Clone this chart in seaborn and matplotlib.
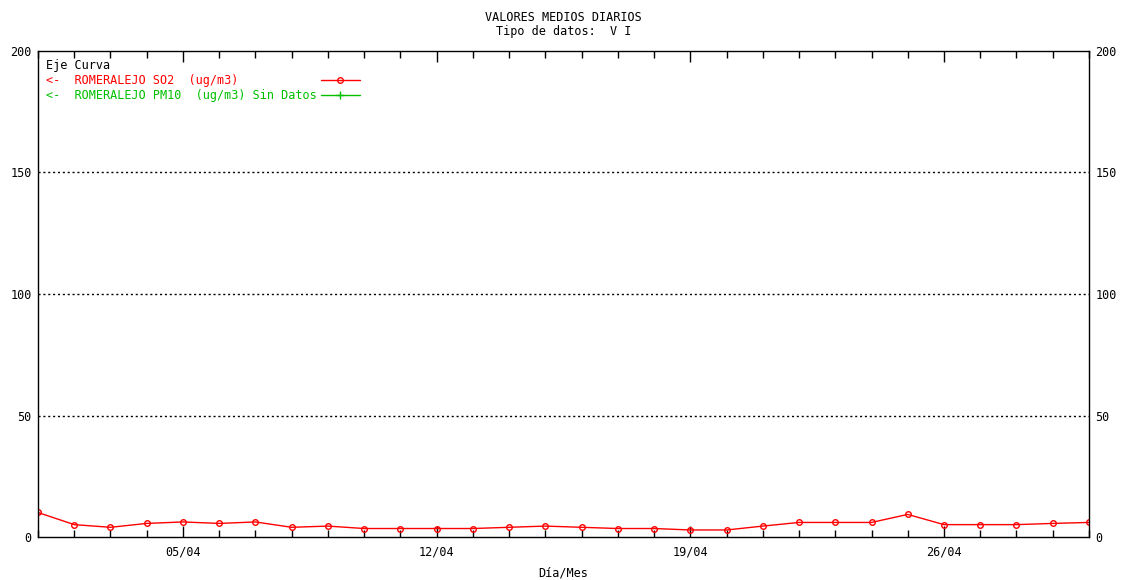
import matplotlib
matplotlib.use("Agg")
import matplotlib.pyplot as plt
import seaborn as sns
from matplotlib.ticker import MultipleLocator

# datos diarios abril, SO2 Romeralejo (ug/m3)
days = list(range(1, 31))
so2 = [10.1, 5.1, 4.0, 5.6, 6.2, 5.6, 6.2, 4.0, 4.5, 3.5,
       3.5, 3.5, 3.5, 4.0, 4.5, 4.0, 3.5, 3.5, 2.9, 2.9,
       4.5, 6.0, 6.0, 6.0, 9.3, 5.1, 5.1, 5.1, 5.6, 6.0]
tick_days = [5, 12, 19, 26]
tick_labels = ["05/04", "12/04", "19/04", "26/04"]
y_ticks = [0, 50, 100, 150, 200]

label_so2 = "<-  ROMERALEJO SO2  (ug/m3)"
label_pm10 = "<-  ROMERALEJO PM10  (ug/m3) Sin Datos"

sns.set_style("white")
plt.rcParams['font.family'] = ['DejaVu Sans Mono']
plt.rcParams['text.color'] = 'black'
plt.rcParams['xtick.color'] = 'black'
plt.rcParams['ytick.color'] = 'black'
plt.rcParams['axes.labelcolor'] = 'black'

fig = plt.figure(figsize=(11.21, 5.80), dpi=100)
ax = fig.add_axes([0.0339, 0.0741, 0.9375, 0.838])

# rellenar con espacios duros para que ambas etiquetas midan lo mismo
pad_label = label_so2 + "\u00a0" * (len(label_pm10) - len(label_so2))

sns.lineplot(x=days, y=so2, ax=ax, color='#ff0000', linewidth=1,
             marker='o', markersize=4, markerfacecolor='none',
             markeredgecolor='#ff0000', markeredgewidth=1,
             label=pad_label)
ax.plot([], [], color='#00c000', linewidth=1, marker='+', markersize=6,
        label=label_pm10)

ax.set_xlim(1, 30)
ax.set_ylim(0, 200)
ax.set_xticks(tick_days)
ax.set_xticklabels(tick_labels)
ax.xaxis.set_minor_locator(MultipleLocator(1))
ax.set_yticks(y_ticks)
ax.set_yticklabels([str(v) for v in y_ticks])

ax.tick_params(axis='x', which='major', direction='in', length=8, width=1,
               top=True, bottom=True, labelsize=8.5, pad=6)
ax.tick_params(axis='x', which='minor', direction='in', length=5, width=1,
               top=True, bottom=True)
ax.tick_params(axis='y', which='major', direction='in', length=0,
               left=True, right=True, labelleft=True, labelright=True,
               labelsize=8.5, pad=4.5)

for v in y_ticks[1:-1]:
    ax.axhline(v, color='black', linestyle=(0, (1.5, 2)), linewidth=1)

for s in ax.spines.values():
    s.set_color('black')
    s.set_linewidth(1)

ax.set_xlabel("Día/Mes", fontsize=8.5, labelpad=6)
ax.set_ylabel("")
fig.text(0.503, 0.981, "VALORES MEDIOS DIARIOS\nTipo de datos:  V I",
         ha='center', va='top', fontsize=8.5, linespacing=1.1)

leg = ax.legend(loc='upper left', markerfirst=False, frameon=False,
                title="Eje Curva", alignment='left', labelcolor='linecolor',
                fontsize=8.5, title_fontsize=8.5, handlelength=3.3,
                handletextpad=0.3, borderaxespad=0.4, labelspacing=0.15,
                borderpad=0.3)

fig.savefig("out.png", dpi=100)
